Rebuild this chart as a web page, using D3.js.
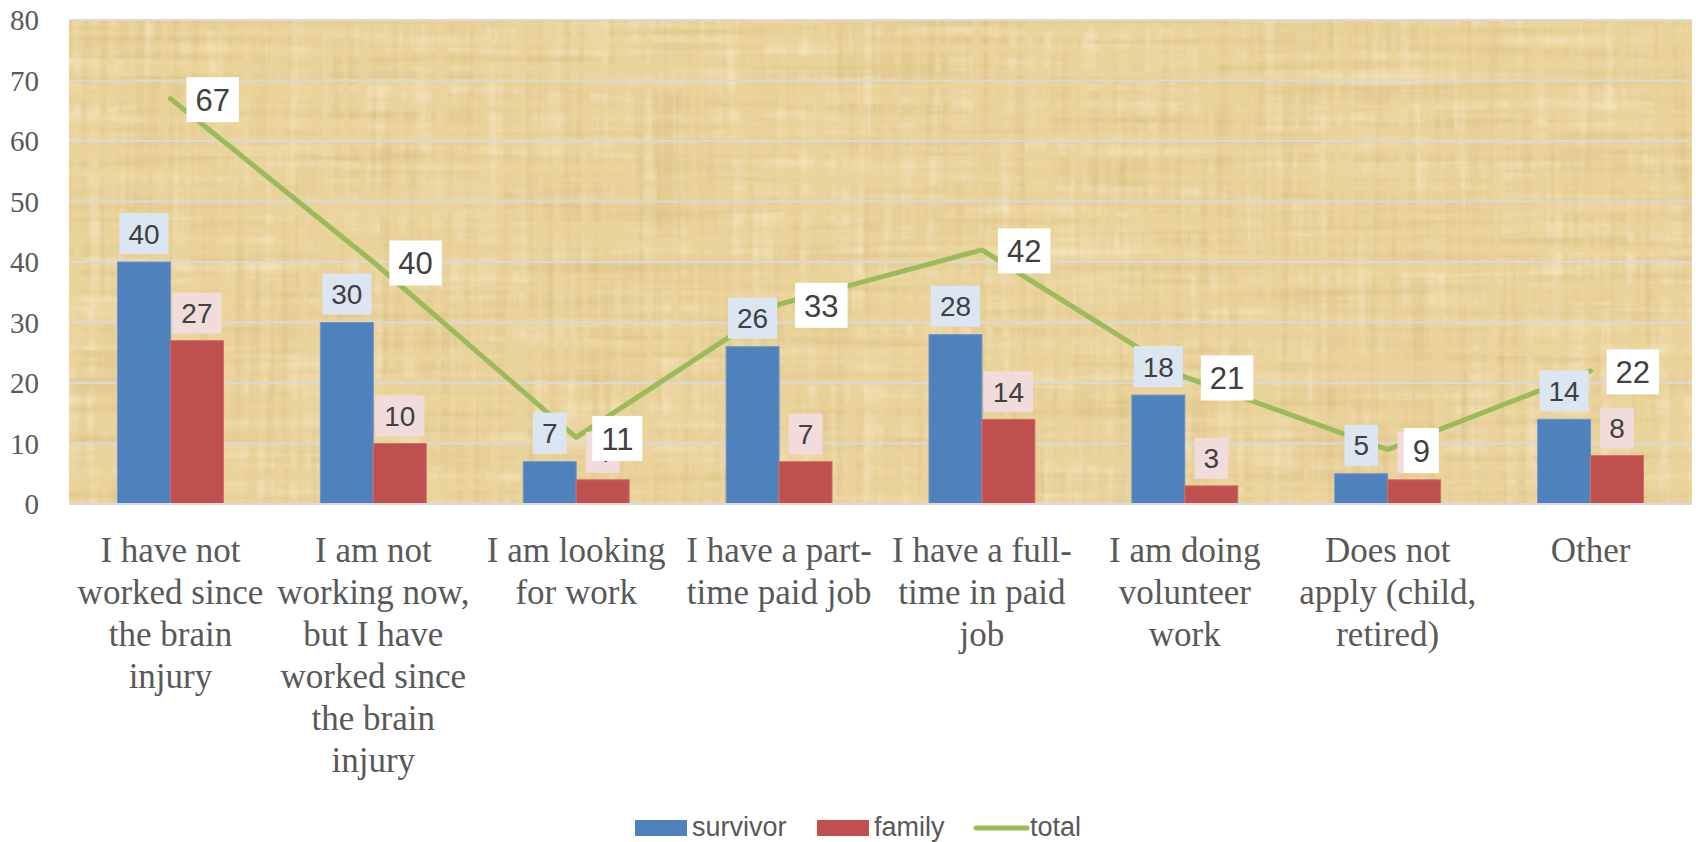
<!DOCTYPE html>
<html>
<head>
<meta charset="utf-8">
<script src="https://cdn.jsdelivr.net/npm/d3@7"></script>
<style>
  html, body { margin: 0; padding: 0; background: #ffffff; }
  svg { display: block; }
</style>
</head>
<body>
<svg id="chart" width="1696" height="842"></svg>
<script>
// ---- data ----
const categories = [
  "I have not\nworked since\nthe brain\ninjury",
  "I am not\nworking now,\nbut I have\nworked since\nthe brain\ninjury",
  "I am looking\nfor work",
  "I have a part-\ntime paid job",
  "I have a full-\ntime in paid\njob",
  "I am doing\nvolunteer\nwork",
  "Does not\napply (child,\nretired)",
  "Other"
];
const survivor = [40, 30, 7, 26, 28, 18, 5, 14];
const family   = [27, 10, 4, 7, 14, 3, 4, 8];
const total    = [67, 40, 11, 33, 42, 21, 9, 22];
const seriesNames = ["survivor", "family", "total"];
const yTicks = [0, 10, 20, 30, 40, 50, 60, 70, 80];

// ---- layout ----
const W = 1696, H = 842;
const plot = { left: 69, right: 1692, top: 20, bottom: 504 };
const colors = { survivor: "#4f81bd", family: "#c0504d", total: "#9bbb59" };
const labelBg = { survivor: "#dce6f2", family: "#f2dcdb", total: "#ffffff" };

const svg = d3.select("#chart");

const x0 = d3.scaleBand().domain(categories).range([plot.left, plot.right]).paddingInner(0).paddingOuter(0);
const bw = x0.bandwidth();
const groupW = bw * 0.522;
const x1 = d3.scaleBand().domain(["survivor", "family"]).range([(bw - groupW) / 2, (bw + groupW) / 2]);
const y = d3.scaleLinear().domain([0, 80]).range([plot.bottom, plot.top]);

// ---- papyrus background ----
const defs = svg.append("defs");
const f1 = defs.append("filter").attr("id", "fibers")
  .attr("x", 0).attr("y", 0).attr("width", "100%").attr("height", "100%");
f1.append("feTurbulence").attr("type", "fractalNoise").attr("baseFrequency", "0.004 0.11")
  .attr("numOctaves", 3).attr("seed", 4).attr("result", "h");
f1.append("feTurbulence").attr("type", "fractalNoise").attr("baseFrequency", "0.11 0.004")
  .attr("numOctaves", 3).attr("seed", 9).attr("result", "v");
f1.append("feComposite").attr("in", "h").attr("in2", "v").attr("operator", "arithmetic")
  .attr("k1", 0).attr("k2", 0.5).attr("k3", 0.5).attr("k4", 0).attr("result", "n");
f1.append("feColorMatrix").attr("in", "n").attr("type", "matrix")
  .attr("values", "0 0 0 0 0.62  0 0 0 0 0.47  0 0 0 0 0.18  -3.2 0 0 0 1.75");

const f2 = defs.append("filter").attr("id", "light")
  .attr("x", 0).attr("y", 0).attr("width", "100%").attr("height", "100%");
f2.append("feTurbulence").attr("type", "fractalNoise").attr("baseFrequency", "0.006 0.07")
  .attr("numOctaves", 3).attr("seed", 21).attr("result", "h");
f2.append("feTurbulence").attr("type", "fractalNoise").attr("baseFrequency", "0.07 0.006")
  .attr("numOctaves", 3).attr("seed", 33).attr("result", "v");
f2.append("feComposite").attr("in", "h").attr("in2", "v").attr("operator", "arithmetic")
  .attr("k1", 0).attr("k2", 0.5).attr("k3", 0.5).attr("k4", 0).attr("result", "n");
f2.append("feColorMatrix").attr("in", "n").attr("type", "matrix")
  .attr("values", "0 0 0 0 0.98  0 0 0 0 0.91  0 0 0 0 0.72  3.0 0 0 0 -1.5");

const bg = svg.append("g");
bg.append("rect").attr("x", plot.left).attr("y", plot.top)
  .attr("width", plot.right - plot.left).attr("height", plot.bottom - plot.top)
  .attr("fill", "#ebd39c");
bg.append("rect").attr("x", plot.left).attr("y", plot.top)
  .attr("width", plot.right - plot.left).attr("height", plot.bottom - plot.top)
  .attr("filter", "url(#light)").attr("opacity", 0.55);
bg.append("rect").attr("x", plot.left).attr("y", plot.top)
  .attr("width", plot.right - plot.left).attr("height", plot.bottom - plot.top)
  .attr("filter", "url(#fibers)").attr("opacity", 0.45);

// ---- gridlines ----
svg.append("g").selectAll("line").data(yTicks.filter(d => d > 0)).join("line")
  .attr("x1", plot.left).attr("x2", plot.right)
  .attr("y1", d => y(d)).attr("y2", d => y(d))
  .attr("stroke", "#d9d9d9").attr("stroke-width", 2);

// ---- y axis ----
const yAxis = d3.axisLeft(y).tickValues(yTicks).tickSize(0).tickPadding(0);
const yg = svg.append("g").attr("transform", `translate(39,0)`).call(yAxis);
yg.select(".domain").remove();
yg.selectAll("text")
  .attr("font-family", "'Liberation Serif', serif")
  .attr("font-size", 29).attr("fill", "#595959").attr("dy", "0.34em");

// ---- bars ----
const barData = [];
categories.forEach((c, i) => {
  barData.push({ cat: c, key: "survivor", v: survivor[i] });
  barData.push({ cat: c, key: "family", v: family[i] });
});
svg.append("g").selectAll("rect").data(barData).join("rect")
  .attr("x", d => x0(d.cat) + x1(d.key))
  .attr("y", d => y(d.v))
  .attr("width", x1.bandwidth())
  .attr("height", d => y(0) - y(d.v))
  .attr("fill", d => colors[d.key])
  .attr("stroke", d => d.key === "survivor" ? "#6a97cc" : "#cf6d6a")
  .attr("stroke-width", 1);

// ---- x axis line ----
svg.append("line").attr("x1", plot.left).attr("x2", plot.right)
  .attr("y1", y(0)).attr("y2", y(0)).attr("stroke", "#d9d9d9").attr("stroke-width", 2);

// ---- total line ----
const line = d3.line().x((d, i) => x0(categories[i]) + bw / 2).y(d => y(d));
svg.append("path").datum(total).attr("d", line)
  .attr("fill", "none").attr("stroke", colors.total).attr("stroke-width", 5)
  .attr("stroke-linecap", "round").attr("stroke-linejoin", "round");

// ---- labels ----
const labelFont = "'Liberation Sans', Arial, sans-serif";
function addLabel(g, text, cx, cy, fontSize, padX, h, fill, anchorLeft) {
  const gg = g.append("g");
  const r = gg.append("rect").attr("fill", fill);
  const t = gg.append("text").text(text)
    .attr("font-family", labelFont).attr("font-size", fontSize).attr("fill", "#404040")
    .attr("text-anchor", "middle").attr("dy", "0.36em");
  const tw = t.node().getComputedTextLength();
  const w = tw + padX * 2;
  const left = anchorLeft ? cx : cx - w / 2;
  r.attr("x", left).attr("y", cy - h / 2).attr("width", w).attr("height", h);
  t.attr("x", left + w / 2).attr("y", cy);
}
const lg = svg.append("g");
barData.filter(d => d.key === "survivor").forEach(d => {
  addLabel(lg, d.v, x0(d.cat) + x1(d.key) + x1.bandwidth() / 2, y(d.v) - 8 - 20.5, 28, 9, 41, labelBg.survivor, false);
});
barData.filter(d => d.key === "family").forEach(d => {
  addLabel(lg, d.v, x0(d.cat) + x1(d.key) + x1.bandwidth() / 2, y(d.v) - 7 - 20.5, 28, 9, 41, labelBg.family, false);
});
total.forEach((v, i) => {
  addLabel(lg, v, x0(categories[i]) + bw / 2 + 16, y(v) + 1, 31, 9, 45, labelBg.total, true);
});

// ---- category labels ----
const cg = svg.append("g");
categories.forEach(c => {
  const t = cg.append("text")
    .attr("font-family", "'Liberation Serif', serif").attr("font-size", 35)
    .attr("fill", "#595959").attr("text-anchor", "middle");
  c.split("\n").forEach((ln, j) => {
    t.append("tspan").attr("x", x0(c) + bw / 2).attr("y", 562 + j * 42).text(ln);
  });
});

// ---- legend ----
const leg = svg.append("g");
const legItems = [
  { key: "survivor", x: 635, type: "rect" },
  { key: "family", x: 817, type: "rect" },
  { key: "total", x: 973, type: "line" }
];
legItems.forEach(it => {
  if (it.type === "rect") {
    leg.append("rect").attr("x", it.x).attr("y", 820).attr("width", 52).attr("height", 16).attr("fill", colors[it.key]);
  } else {
    leg.append("line").attr("x1", it.x + 3).attr("x2", it.x + 54).attr("y1", 828).attr("y2", 828)
      .attr("stroke", colors[it.key]).attr("stroke-width", 5).attr("stroke-linecap", "round");
  }
  leg.append("text").attr("x", it.x + 57).attr("y", 836).text(it.key)
    .attr("font-family", labelFont).attr("font-size", 27).attr("fill", "#595959");
});
</script>
</body>
</html>
